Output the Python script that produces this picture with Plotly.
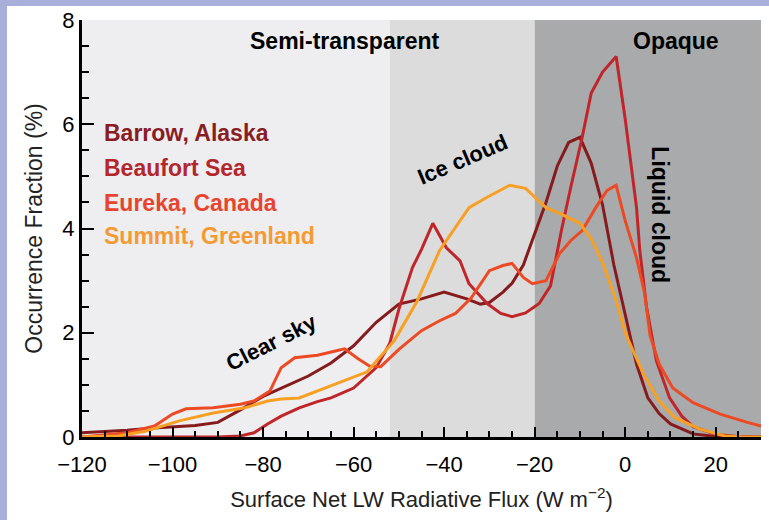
import plotly.graph_objects as go

# ---- data ----
barrow_x = [-120, -115, -110, -105, -100, -95, -90, -85, -80, -75, -70, -65, -60, -55, -50, -45, -40,
            -35, -32, -30, -27, -25, -22.5, -20, -17.5, -15, -12.5, -10, -7.5, -5, -2.5, 0, 2.5, 5,
            7.5, 10, 15, 20, 25, 30]
barrow_y = [0.08, 0.1, 0.13, 0.17, 0.2, 0.22, 0.28, 0.52, 0.78, 0.97, 1.17, 1.42, 1.75, 2.2, 2.55,
            2.65, 2.78, 2.65, 2.55, 2.58, 2.78, 2.95, 3.3, 3.9, 4.5, 5.2, 5.65, 5.75, 5.25, 4.45,
            3.3, 2.35, 1.4, 0.75, 0.45, 0.25, 0.06, 0.01, 0, 0]

beaufort_x = [-120, -110, -100, -90, -85, -82, -79, -76, -72, -68, -65, -60, -55, -52, -50, -47,
              -45, -42.5, -39.5, -36.5, -34.5, -30.5, -27.5, -25, -22, -19, -16.5, -14, -12, -9.5,
              -7.5, -5, -2, 0, 2.5, 3.2, 4.7, 6.9, 9.8, 12.5, 15, 20, 25, 30]
beaufort_y = [0, 0, 0, 0, 0.02, 0.08, 0.25, 0.4, 0.56, 0.68, 0.75, 0.94, 1.33, 1.8, 2.45, 3.25,
              3.6, 4.1, 3.63, 3.38, 2.94, 2.56, 2.37, 2.31, 2.38, 2.56, 2.9, 4.0, 4.8, 5.75,
              6.6, 7.0, 7.3, 6.1, 4.4, 3.6, 2.5, 1.46, 0.75, 0.4, 0.2, 0.05, 0.01, 0]

eureka_x = [-120, -110, -104, -100, -97, -91, -85, -82, -78.5, -76, -73, -68, -64, -62, -59, -56.5,
            -54, -50, -45, -41, -37.5, -34, -30, -27, -25, -22.5, -20.5, -17.5, -14.5, -12, -9.5,
            -6.5, -4, -2, 0, 2.5, 4.3, 5.5, 7.5, 10.5, 15, 21, 27, 30]
eureka_y = [0, 0.08, 0.21, 0.44, 0.54, 0.56, 0.63, 0.69, 0.88, 1.33, 1.52, 1.57, 1.65, 1.69, 1.5,
            1.36, 1.35, 1.68, 2.04, 2.23, 2.37, 2.67, 3.19, 3.29, 3.33, 3.06, 2.94, 3.0, 3.52, 3.77,
            3.96, 4.4, 4.73, 4.83, 4.15, 3.44, 2.75, 1.95, 1.4, 0.94, 0.66, 0.44, 0.28, 0.21]

summit_x = [-120, -112, -106, -98.5, -91, -84, -79, -76, -72, -65, -57, -51, -46, -41, -37, -34.5,
            -30.5, -25.5, -22, -17.5, -14.5, -10, -7.5, -5, -2, 0, 4, 7.5, 11, 16.5, 22, 26, 30]
summit_y = [0, 0.02, 0.11, 0.31, 0.46, 0.56, 0.69, 0.73, 0.75, 0.98, 1.25, 1.85, 2.6, 3.58, 4.1,
            4.4, 4.6, 4.83, 4.77, 4.4, 4.29, 4.1, 3.8, 3.35, 2.62, 2.0, 1.21, 0.69, 0.37, 0.15,
            0.02, 0, 0]

station_names = ["Barrow, Alaska", "Beaufort Sea", "Eureka, Canada", "Summit, Greenland"]
line_colors = ["#861a1c", "#c0252a", "#ec4a24", "#f7a024"]
text_colors = ["#8a1c24", "#b3262b", "#e8432e", "#f49a34"]

# regime boundaries (W m-2)
regime_edges = [-120, -52, -20, 30]
regime_colors = ["#eeeef0", "#dcdcdd", "#a9aaab"]

x_ticks = [-120, -100, -80, -60, -40, -20, 0, 20]
x_ticktext = ["\u2212120", "\u2212100", "\u221280", "\u221260", "\u221240", "\u221220", "0", "20"]
y_ticks = [0, 2, 4, 6, 8]

FONT = "Liberation Sans, Arial, sans-serif"
BORDER = "#a9afdb"

fig = go.Figure()

series = [(barrow_x, barrow_y), (beaufort_x, beaufort_y), (eureka_x, eureka_y), (summit_x, summit_y)]
for i, (xs, ys) in enumerate(series):
    fig.add_trace(go.Scatter(x=xs, y=ys, mode="lines", name=station_names[i],
                             line=dict(color=line_colors[i], width=3), showlegend=False))

shapes = []
# white page with lavender border on top/left
shapes.append(dict(type="rect", xref="paper", yref="paper", x0=-0.1105, x1=1.2, y0=-0.4,
                   y1=1.0336, fillcolor="white", line=dict(width=0), layer="below"))
for i in range(3):
    shapes.append(dict(type="rect", xref="x", yref="y", x0=regime_edges[i], x1=regime_edges[i + 1],
                       y0=0, y1=8, fillcolor=regime_colors[i], line=dict(width=0), layer="below"))

ann = []
ann.append(dict(x=-62, y=7.6, text="<b>Semi-transparent</b>", showarrow=False,
                font=dict(size=23, color="black", family=FONT)))
ann.append(dict(x=11.2, y=7.6, text="<b>Opaque</b>", showarrow=False,
                font=dict(size=23, color="black", family=FONT)))
ann.append(dict(x=-35.9, y=5.32, text="<b>Ice cloud</b>", showarrow=False, textangle=-23,
                font=dict(size=22, color="black", family=FONT)))
ann.append(dict(x=-78.2, y=1.82, text="<b>Clear sky</b>", showarrow=False, textangle=-27,
                font=dict(size=22, color="black", family=FONT)))
ann.append(dict(x=7.6, y=4.26, text="<b>Liquid cloud</b>", showarrow=False, textangle=90,
                font=dict(size=23, color="black", family=FONT)))
legend_y = [5.83, 5.16, 4.49, 3.85]
for i in range(4):
    ann.append(dict(x=-115.5, y=legend_y[i], text="<b>" + station_names[i] + "</b>", showarrow=False,
                    xanchor="left", font=dict(size=23, color=text_colors[i], family=FONT)))

fig.update_layout(
    width=769, height=520,
    margin=dict(l=82, r=8, t=20, b=83),
    paper_bgcolor=BORDER,
    plot_bgcolor="white",
    shapes=shapes,
    annotations=ann,
    font=dict(family=FONT, color="black"),
    xaxis=dict(range=[-120, 30], tickvals=x_ticks, ticktext=x_ticktext, automargin=False,
               ticks="inside", ticklen=10, tickwidth=2, tickcolor="black", ticklabelstandoff=6,
               minor=dict(dtick=5, ticks="inside", ticklen=6, tickwidth=2, tickcolor="black"),
               showline=True, linecolor="black", linewidth=3, showgrid=False, zeroline=False,
               tickfont=dict(size=22, color="black"),
               title=dict(text="Surface Net LW Radiative Flux (W m<sup>\u22122</sup>)",
                          font=dict(size=22, color="#222"), standoff=16)),
    yaxis=dict(range=[0, 8], tickvals=y_ticks, automargin=False,
               ticks="inside", ticklen=12, tickwidth=2, tickcolor="black",
               minor=dict(dtick=0.5, ticks="inside", ticklen=7, tickwidth=2, tickcolor="black"),
               showline=True, linecolor="black", linewidth=3, showgrid=False, zeroline=False,
               tickfont=dict(size=22, color="black"),
               title=dict(text="Occurrence Fraction (%)", font=dict(size=23, color="#222"),
                          standoff=14)),
)

fig.write_html("out.html", config={"displayModeBar": False},
               post_script="document.body.style.margin='0';document.body.style.background='%s';" % BORDER)
